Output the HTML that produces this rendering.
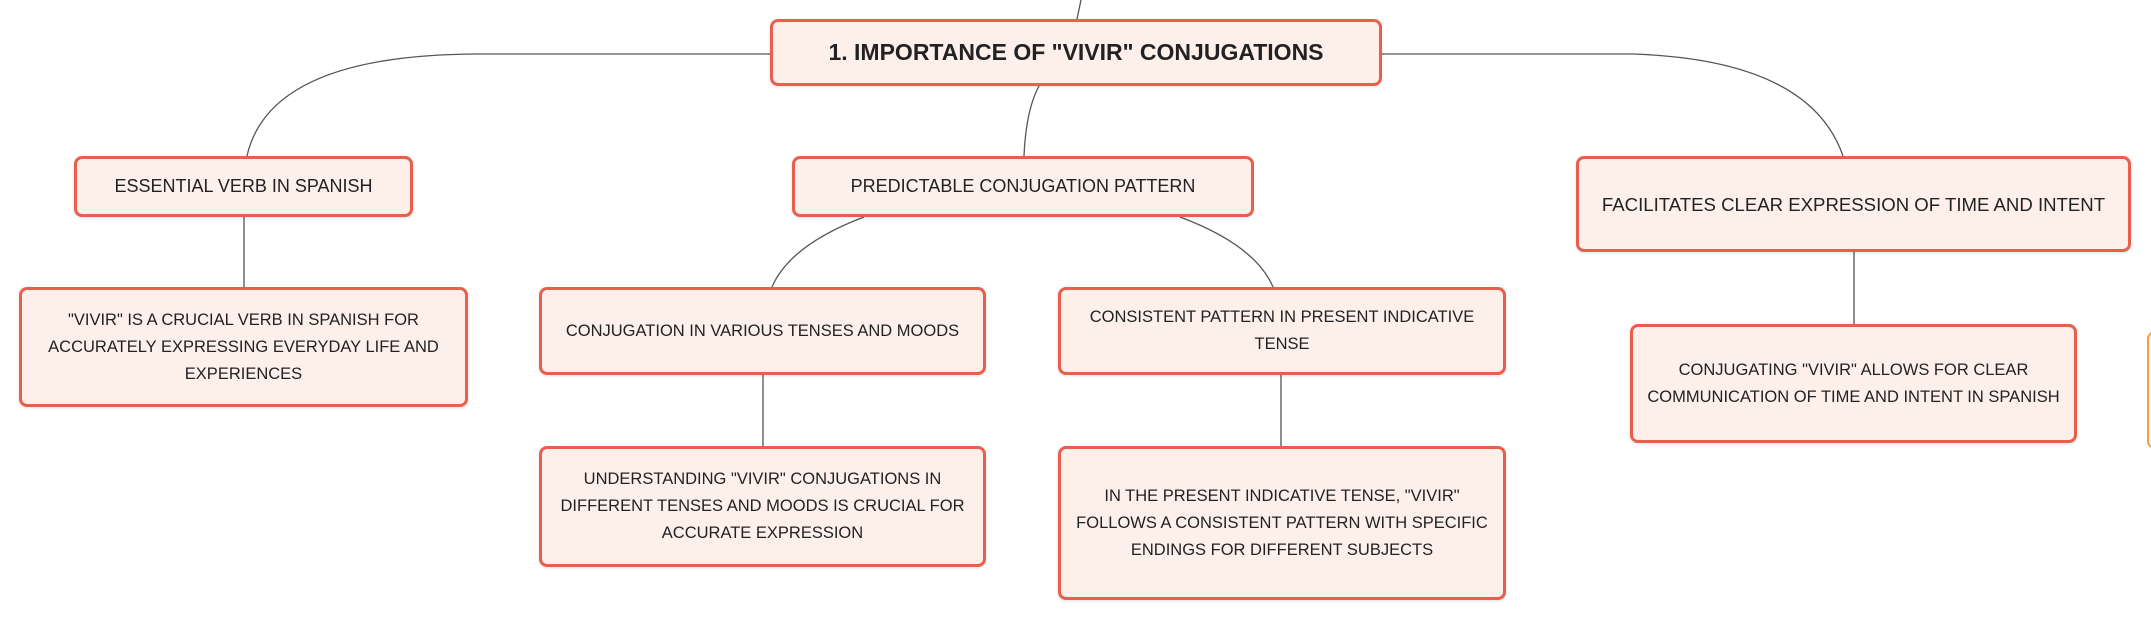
<!DOCTYPE html>
<html><head><meta charset="utf-8"><style>
body{margin:0;width:2151px;height:620px;background:#fff;position:relative;overflow:hidden;font-family:"Liberation Sans",sans-serif;}
.b{position:absolute;box-sizing:border-box;background:#fdf0eb;border:3px solid #e8604c;border-radius:8px;box-shadow:0 1px 3px rgba(0,0,0,.12);display:flex;align-items:center;justify-content:center;text-align:center;color:#222;font-size:16.5px;line-height:27px;white-space:nowrap;}
svg{position:absolute;left:0;top:0;}
</style></head><body>
<svg width="2151" height="620"><g fill="none" stroke="#555" stroke-width="1.3">
<path d="M1081 0 L1077 19"/>
<path d="M770 54 L480 54 Q270 54 247 156"/>
<path d="M1039 86 Q1026 110 1024 156"/>
<path d="M1382 54 L1633 54 Q1810 60 1843 156"/>
<path d="M244 217 L244 287"/>
<path d="M864 217 Q790 245 772 287"/>
<path d="M1180 217 Q1255 245 1273 287"/>
<path d="M1854 252 L1854 324"/>
<path d="M763 375 L763 446"/>
<path d="M1281 375 L1281 446"/>
</g></svg>
<div class="b" style="left:770px;top:19px;width:612px;height:67px;font-weight:bold;font-size:23px;">1. IMPORTANCE OF "VIVIR" CONJUGATIONS</div>
<div class="b" style="left:74px;top:156px;width:339px;height:61px;font-size:18px;">ESSENTIAL VERB IN SPANISH</div>
<div class="b" style="left:792px;top:156px;width:462px;height:61px;font-size:18px;">PREDICTABLE CONJUGATION PATTERN</div>
<div class="b" style="left:1576px;top:156px;width:555px;height:96px;font-size:18.6px;">FACILITATES CLEAR EXPRESSION OF TIME AND INTENT</div>
<div class="b" style="left:19px;top:287px;width:449px;height:120px;">"VIVIR" IS A CRUCIAL VERB IN SPANISH FOR<br>ACCURATELY EXPRESSING EVERYDAY LIFE AND<br>EXPERIENCES</div>
<div class="b" style="left:539px;top:287px;width:447px;height:88px;">CONJUGATION IN VARIOUS TENSES AND MOODS</div>
<div class="b" style="left:1058px;top:287px;width:448px;height:88px;align-items:flex-start;padding-top:14px;">CONSISTENT PATTERN IN PRESENT INDICATIVE<br>TENSE</div>
<div class="b" style="left:1630px;top:324px;width:447px;height:119px;">CONJUGATING "VIVIR" ALLOWS FOR CLEAR<br>COMMUNICATION OF TIME AND INTENT IN SPANISH</div>
<div class="b" style="left:539px;top:446px;width:447px;height:121px;">UNDERSTANDING "VIVIR" CONJUGATIONS IN<br>DIFFERENT TENSES AND MOODS IS CRUCIAL FOR<br>ACCURATE EXPRESSION</div>
<div class="b" style="left:1058px;top:446px;width:448px;height:154px;">IN THE PRESENT INDICATIVE TENSE, "VIVIR"<br>FOLLOWS A CONSISTENT PATTERN WITH SPECIFIC<br>ENDINGS FOR DIFFERENT SUBJECTS</div>
<div style="position:absolute;left:2147px;top:331px;width:20px;height:118px;box-sizing:border-box;border:2.5px solid #f0a040;border-radius:8px;background:#fff6ea;"></div>
</body></html>
